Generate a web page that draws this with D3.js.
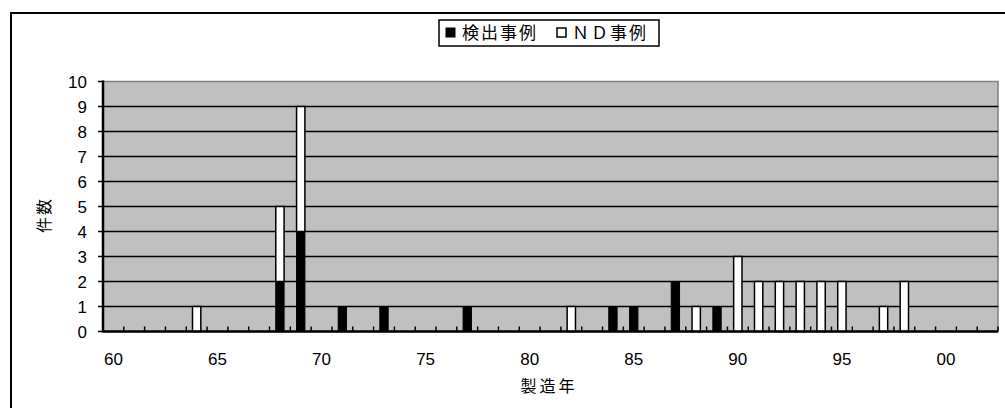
<!DOCTYPE html>
<html><head><meta charset="utf-8">
<script src="https://cdn.jsdelivr.net/npm/d3@7"></script>
<style>body{margin:0;background:#fff}svg{display:block}text{font-family:"Liberation Sans",Arial,"Noto Sans CJK JP",sans-serif;fill:#000}</style>
</head><body><svg id="c" width="1005" height="408"></svg>
<script>
const years = ["60","61","62","63","64","65","66","67","68","69","70","71","72","73","74","75","76","77","78","79","80","81","82","83","84","85","86","87","88","89","90","91","92","93","94","95","96","97","98","99","00","01","02"];
const detected = [0,0,0,0,0,0,0,0,2,4,0,1,0,1,0,0,0,1,0,0,0,0,0,0,1,1,0,2,0,1,0,0,0,0,0,0,0,0,0,0,0,0,0];
const notDetected = [0,0,0,0,1,0,0,0,3,5,0,0,0,0,0,0,0,0,0,0,0,0,1,0,0,0,0,0,1,0,3,2,2,2,2,2,0,1,2,0,0,0,0];
const yTicks = [0,1,2,3,4,5,6,7,8,9,10];
const xLabels = ["60","65","70","75","80","85","90","95","00"];
const seriesNames = ["検出事例","ＮＤ事例"];

const svg = d3.select("#c");
const L=103, R=998, T=81.5, B=331.5;
const x = d3.scaleBand().domain(years).range([L,R]).paddingInner(0.6).paddingOuter(0.3);
const xb = d3.scaleBand().domain(years).range([L,R]);
const y = d3.scaleLinear().domain([0,10]).range([B,T]);

// outer frame
svg.append("rect").attr("x",11).attr("y",13).attr("width",1005).attr("height",420).attr("fill","#fff").attr("stroke","#000").attr("stroke-width",2);

// plot area
svg.append("rect").attr("x",L).attr("y",T).attr("width",R-L).attr("height",B-T).attr("fill","#c0c0c0").attr("stroke","#808080").attr("stroke-width",1.5);

// gridlines
svg.append("g").selectAll("line").data(yTicks.filter(d=>d>0&&d<10)).join("line")
  .attr("x1",L).attr("x2",R).attr("y1",d=>y(d)).attr("y2",d=>y(d)).attr("stroke","#000").attr("stroke-width",1.5);

// bars
const stack = years.map((yr,i)=>({yr, d:detected[i], n:notDetected[i]}));
const g = svg.append("g");
g.selectAll("rect.det").data(stack.filter(s=>s.d>0)).join("rect").attr("class","det")
  .attr("x",s=>x(s.yr)).attr("width",x.bandwidth()).attr("y",s=>y(s.d)).attr("height",s=>y(0)-y(s.d))
  .attr("fill","#000").attr("stroke","#000").attr("stroke-width",1);
g.selectAll("rect.nd").data(stack.filter(s=>s.n>0)).join("rect").attr("class","nd")
  .attr("x",s=>x(s.yr)).attr("width",x.bandwidth()).attr("y",s=>y(s.d+s.n)).attr("height",s=>y(s.d)-y(s.d+s.n))
  .attr("fill","#fff").attr("stroke","#000").attr("stroke-width",1.5);

// x axis
const xAxis = svg.append("g").attr("transform",`translate(0,${B})`);
xAxis.append("line").attr("x1",L).attr("x2",R).attr("stroke","#000").attr("stroke-width",2.5);
xAxis.selectAll("line.t").data(years.slice(1).concat(["end"])).join("line").attr("class","t")
  .attr("x1",d=>d==="end"?R:xb(d)).attr("x2",d=>d==="end"?R:xb(d)).attr("y1",0).attr("y2",-5).attr("stroke","#000").attr("stroke-width",1.5);
xAxis.selectAll("text").data(xLabels).join("text")
  .attr("x",d=>xb(d)+xb.bandwidth()/2).attr("y",33).attr("text-anchor","middle").attr("font-size",17).text(d=>d);

// y axis
const yAxis = svg.append("g");
yAxis.append("line").attr("x1",L).attr("x2",L).attr("y1",T-1).attr("y2",B+1).attr("stroke","#000").attr("stroke-width",2.5);
yAxis.selectAll("line.t").data(yTicks).join("line").attr("class","t")
  .attr("x1",L-5).attr("x2",L).attr("y1",d=>y(d)).attr("y2",d=>y(d)).attr("stroke","#000").attr("stroke-width",1.5);
yAxis.selectAll("text").data(yTicks).join("text")
  .attr("x",87).attr("y",d=>y(d)).attr("dy","0.36em").attr("text-anchor","end").attr("font-size",17).text(d=>d);

// titles
svg.append("text").attr("transform","translate(44,215) rotate(-90)").attr("text-anchor","middle").attr("dy","0.36em")
  .attr("font-size",16).attr("letter-spacing",2).text("件数");
svg.append("text").attr("x",549).attr("y",386).attr("text-anchor","middle").attr("dy","0.36em")
  .attr("font-size",16).attr("letter-spacing",3).text("製造年");

// legend
const lg = svg.append("g");
lg.append("rect").attr("x",439).attr("y",20).attr("width",220).attr("height",26).attr("fill","#fff").attr("stroke","#000").attr("stroke-width",1.5);
lg.append("rect").attr("x",446).attr("y",28).attr("width",9).attr("height",9).attr("fill","#000").attr("stroke","#000");
lg.append("text").attr("x",462).attr("y",33).attr("dy","0.36em").attr("font-size",17).attr("letter-spacing",2).text(seriesNames[0]);
lg.append("rect").attr("x",557).attr("y",28).attr("width",9).attr("height",9).attr("fill","#fff").attr("stroke","#000").attr("stroke-width",1.5);
lg.append("text").attr("x",572).attr("y",33).attr("dy","0.36em").attr("font-size",17).attr("letter-spacing",2).text(seriesNames[1]);
</script></body></html>
